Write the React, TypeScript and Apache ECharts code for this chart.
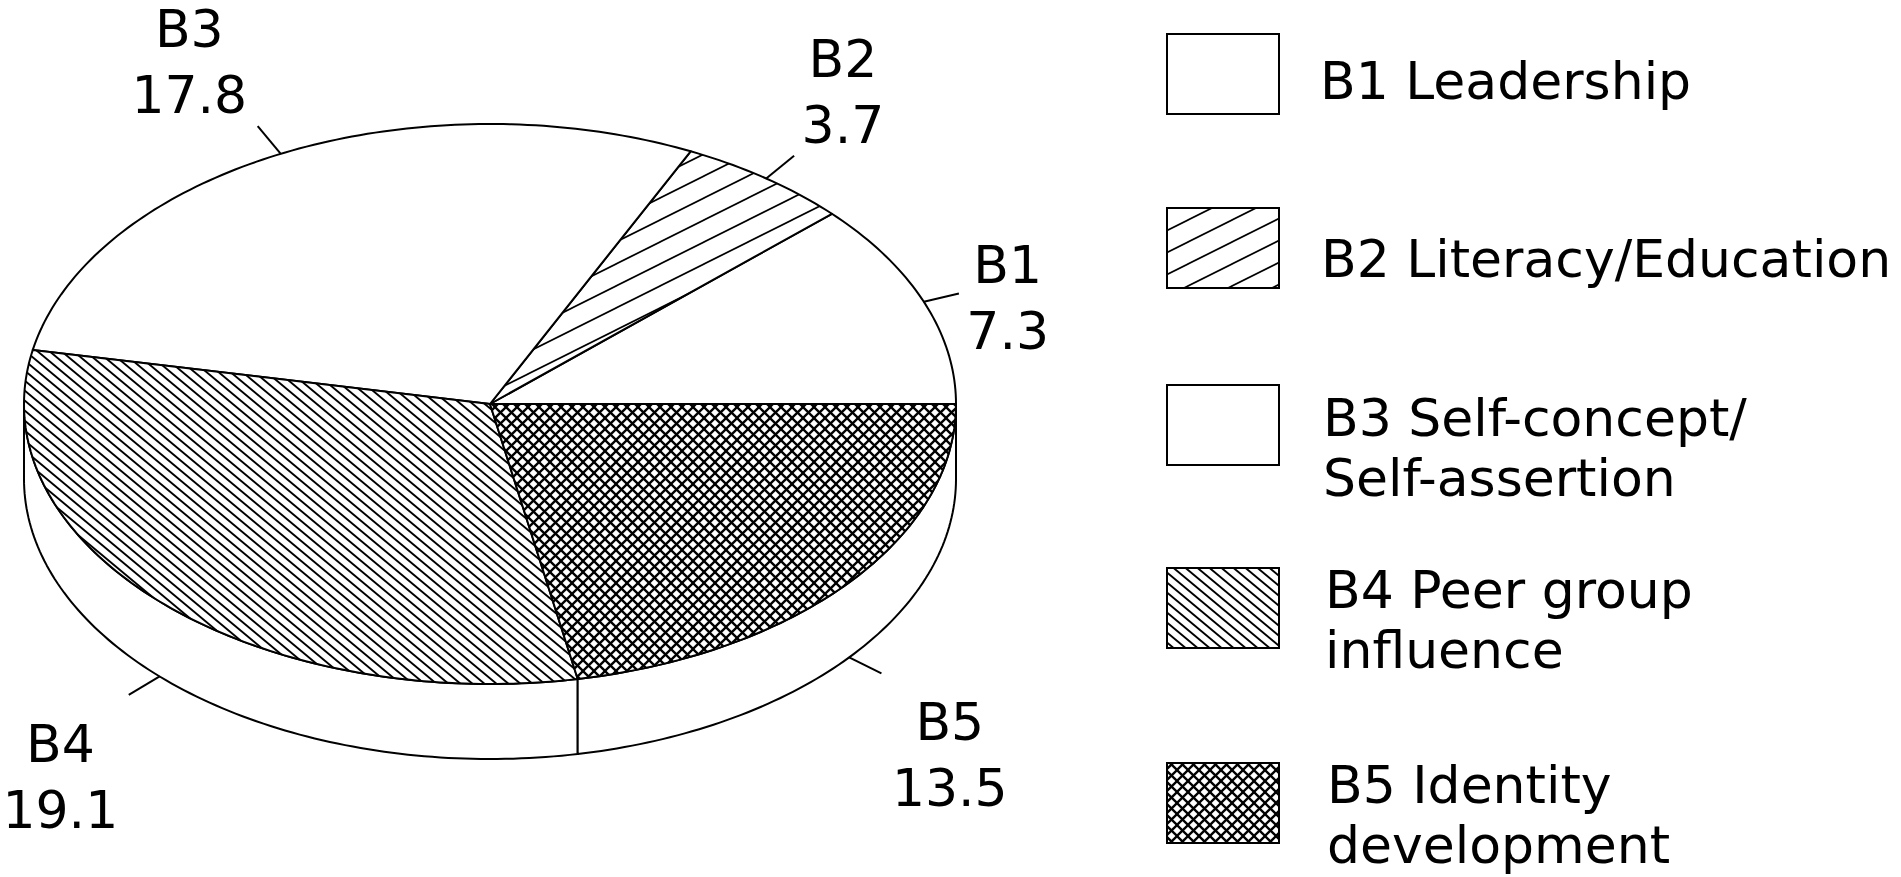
import React, { useEffect, useRef } from 'react';
import * as echarts from 'echarts';

// ---------- data ----------
const codes: string[] = ['B1', 'B2', 'B3', 'B4', 'B5'];
const values: number[] = [7.3, 3.7, 17.8, 19.1, 13.5];
const legendNames: string[] = [
  'B1 Leadership',
  'B2 Literacy/Education',
  'B3 Self-concept/\nSelf-assertion',
  'B4 Peer group\ninfluence',
  'B5 Identity\ndevelopment',
];
const patternKinds: string[] = ['blank', 'diagUp', 'blank', 'diagDown', 'cross'];

// ---------- layout / style ----------
const FONT_FAMILY = '"DejaVu Sans", "Noto Sans", sans-serif';
const FONT_SIZE = 52;
const CX = 490;
const CY = 404;
const RX = 466;
const RY = 280;
const DEPTH = 75;
const STROKE = '#000';
const LW = 2;
const LEGEND_BOX_X = 1167;
const LEGEND_BOX_W = 112;
const LEGEND_BOX_H = 80;
const LEGEND_BOX_TOP = [34, 208, 385, 568, 763];
const LEGEND_TEXT_X = [1320, 1321, 1323, 1325, 1327];
const LEGEND_TEXT_Y = [81, 259, 418, 590, 785];

function makePattern(kind: string): any {
  if (kind === 'blank') return '#ffffff';
  let w = 12;
  let h = 10;
  let lw = 1.6;
  if (kind === 'diagUp') { w = 44; h = 22; lw = 1.7; }
  if (kind === 'diagDown') { w = 12; h = 10; lw = 1.9; }
  if (kind === 'cross') { w = 11; h = 11; lw = 2.3; }
  const c = document.createElement('canvas');
  c.width = w;
  c.height = h;
  const ctx = c.getContext('2d')!;
  ctx.fillStyle = '#fff';
  ctx.fillRect(0, 0, w, h);
  ctx.strokeStyle = '#000';
  ctx.lineWidth = lw;
  const down = () => {
    for (let k = -2; k <= 2; k++) {
      ctx.beginPath();
      ctx.moveTo(-w, -h + k * h);
      ctx.lineTo(2 * w, 2 * h + k * h);
      ctx.stroke();
    }
  };
  const up = () => {
    for (let k = -2; k <= 2; k++) {
      ctx.beginPath();
      ctx.moveTo(-w, 2 * h + k * h);
      ctx.lineTo(2 * w, -h + k * h);
      ctx.stroke();
    }
  };
  if (kind === 'diagUp') up();
  if (kind === 'diagDown') down();
  if (kind === 'cross') { up(); down(); }
  return { image: c.toDataURL(), repeat: 'repeat', imageWidth: w, imageHeight: h };
}

function ellPt(deg: number, dy = 0): number[] {
  const r = (deg * Math.PI) / 180;
  return [CX + RX * Math.cos(r), CY - RY * Math.sin(r) + dy];
}

function arcPts(a0: number, a1: number, dy = 0): number[][] {
  const pts: number[][] = [];
  const n = Math.max(2, Math.ceil(Math.abs(a1 - a0)));
  for (let k = 0; k <= n; k++) pts.push(ellPt(a0 + ((a1 - a0) * k) / n, dy));
  return pts;
}

export default function App() {
  const ref = useRef<HTMLDivElement>(null);
  useEffect(() => {
    if (!ref.current) return;
    const chart = echarts.init(ref.current, undefined, { renderer: 'svg' });
    const total = values.reduce((a, b) => a + b, 0);
    const starts: number[] = [];
    let acc = 0;
    values.forEach((v) => { starts.push(acc); acc += v; });
    const fills = patternKinds.map(makePattern);

    const renderItem = (params: any, api: any) => {
      const i = params.dataIndex;
      const v = api.value(0);
      const a0 = (starts[i] / total) * 360;
      const a1 = a0 + (v / total) * 360;
      const children: any[] = [];
      // side wall (front half only: 180..360)
      const s0 = Math.max(a0, 180);
      const s1 = Math.min(a1, 360);
      if (s1 > s0) {
        const top = arcPts(s0, s1, 0);
        const bot = arcPts(s0, s1, DEPTH).reverse();
        children.push({
          type: 'polygon',
          z2: 1,
          shape: { points: top.concat(bot) },
          style: { fill: '#fff', stroke: STROKE, lineWidth: LW, lineJoin: 'round' },
        });
      }
      // top face slice
      children.push({
        type: 'polygon',
        z2: 2,
        shape: { points: [[CX, CY]].concat(arcPts(a0, a1, 0)) },
        style: { fill: fills[i], stroke: STROKE, lineWidth: LW, lineJoin: 'round' },
      });
      // leader + label
      const m = (a0 + a1) / 2;
      const mr = (m * Math.PI) / 180;
      const bottom = Math.sin(mr) < 0;
      const p = ellPt(m, bottom ? DEPTH : 0);
      let ux = RX * Math.cos(mr);
      let uy = -RY * Math.sin(mr);
      const len = Math.hypot(ux, uy);
      ux /= len; uy /= len;
      const L = 36;
      const ex = p[0] + ux * L;
      const ey = p[1] + uy * L;
      children.push({
        type: 'line',
        z2: 3,
        shape: { x1: p[0], y1: p[1], x2: ex, y2: ey },
        style: { stroke: STROKE, lineWidth: LW },
      });
      const valStr = String(v);
      const maxChars = Math.max(valStr.length, codes[i].length);
      const halfW = (maxChars * 0.6 * FONT_SIZE) / 2;
      const dx = Math.sign(ux) * (halfW + (maxChars > 3 ? 6 : 2));
      const dy = Math.abs(uy) < 0.35 ? 4 : uy < 0 ? -64 : 82;
      children.push({
        type: 'text',
        z2: 4,
        style: {
          text: codes[i] + '\n' + valStr,
          x: ex + dx,
          y: ey + dy,
          align: 'center',
          verticalAlign: 'middle',
          fontFamily: FONT_FAMILY,
          fontSize: FONT_SIZE,
          lineHeight: 66,
          fill: '#000',
        },
      });
      return { type: 'group', children };
    };

    const legendGraphics: any[] = [];
    legendNames.forEach((name, i) => {
      legendGraphics.push({
        type: 'rect',
        shape: { x: LEGEND_BOX_X, y: LEGEND_BOX_TOP[i], width: LEGEND_BOX_W, height: LEGEND_BOX_H },
        style: { fill: fills[i], stroke: STROKE, lineWidth: LW },
      });
      legendGraphics.push({
        type: 'text',
        x: LEGEND_TEXT_X[i],
        y: LEGEND_TEXT_Y[i] - 30,
        style: {
          text: name,
          align: 'left',
          verticalAlign: 'top',
          fontFamily: FONT_FAMILY,
          fontSize: FONT_SIZE,
          lineHeight: 60,
          fill: '#000',
        },
      });
    });

    chart.setOption({
      animation: false,
      backgroundColor: '#fff',
      series: [
        {
          type: 'custom',
          coordinateSystem: 'none',
          silent: true,
          renderItem,
          data: values,
        },
      ],
      graphic: legendGraphics,
    });
    return () => chart.dispose();
  }, []);
  return (
    <div
      ref={ref}
      style={{ position: 'absolute', left: 0, top: 0, width: 1901, height: 877, background: '#fff' }}
    />
  );
}
